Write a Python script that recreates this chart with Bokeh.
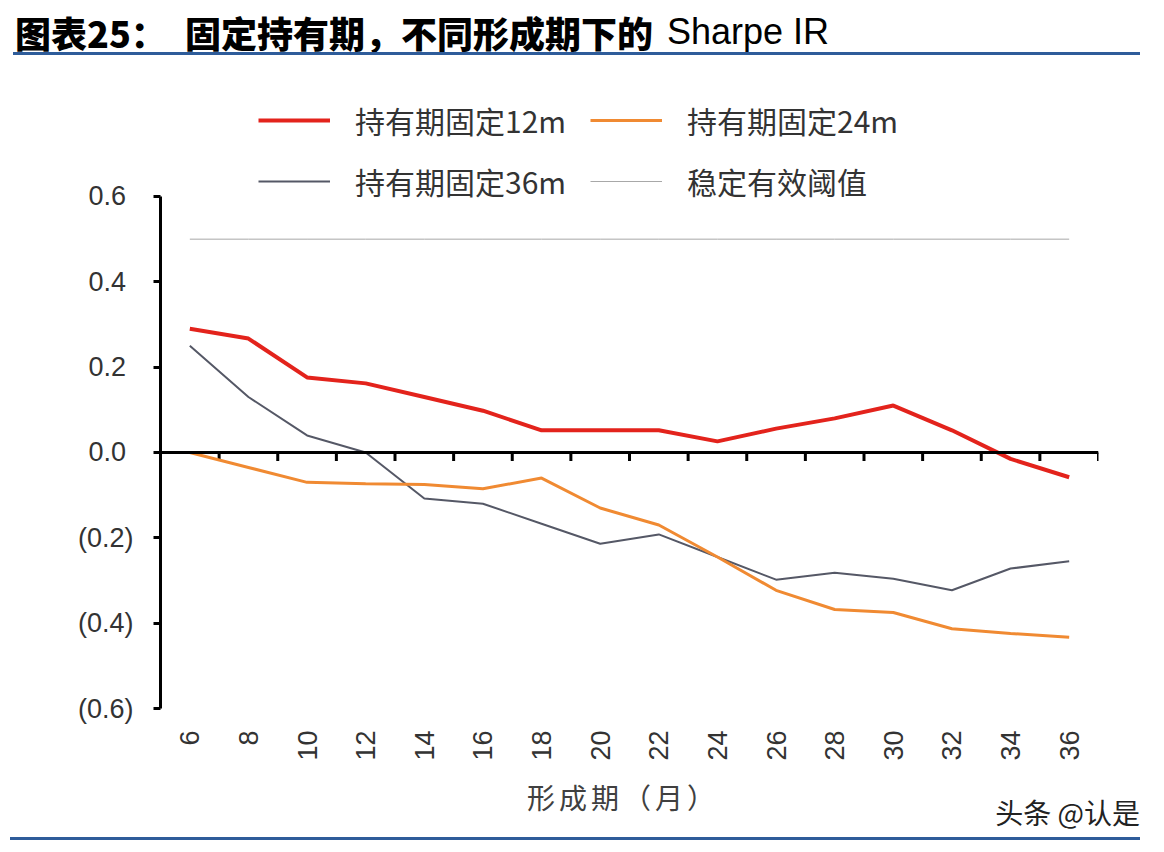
import math
from bokeh.plotting import figure
from bokeh.layouts import column
from bokeh.models import Range1d, FixedTicker, Span, Legend, LegendItem, Div
from bokeh.embed import file_html
from bokeh.resources import INLINE

# formation period (months) and Sharpe IR for each fixed holding period
months = [6, 8, 10, 12, 14, 16, 18, 20, 22, 24, 26, 28, 30, 32, 34, 36]
hold_12m = [0.29, 0.267, 0.176, 0.162, 0.13, 0.098, 0.052, 0.052, 0.052, 0.026,
            0.056, 0.08, 0.11, 0.052, -0.015, -0.058]
hold_24m = [0.0, -0.035, -0.07, -0.073, -0.075, -0.085, -0.06, -0.13, -0.17, -0.245,
            -0.323, -0.368, -0.375, -0.413, -0.424, -0.433]
hold_36m = [0.25, 0.13, 0.04, 0.0, -0.108, -0.12, -0.167, -0.214, -0.192, -0.245,
            -0.298, -0.282, -0.296, -0.323, -0.272, -0.255]
threshold = [0.5] * 16

y_ticks = [-0.6, -0.4, -0.2, 0.0, 0.2, 0.4, 0.6]
# positive labels keep a blank where the closing parenthesis sits (accounting style)
y_tick_labels = ["(0.6)", "(0.4)", "(0.2)", "0.0\u00a0", "0.2\u00a0", "0.4\u00a0", "0.6\u00a0"]

series_names = ["持有期固定12m", "持有期固定24m", "持有期固定36m", "稳定有效阈值"]
title_head = "图表25："
title_body = "固定持有期，不同形成期下的"
title_tail = "Sharpe IR"
x_title = "形成期（月）"
watermark = "头条 @认是"

CJK = "Noto Sans CJK SC"
LAT = "Liberation Sans"
BLUE = "#2e5c9a"

# header: title text and the blue rule under it
header = Div(width=1156, height=58, margin=0, text=f"""
<div style="position:relative;width:1156px;height:58px;background:white;">
  <span style="position:absolute;left:15px;top:13px;line-height:38px;font-family:'{CJK}';
        font-size:36px;font-weight:900;color:#000;white-space:nowrap;">{title_head}</span>
  <span style="position:absolute;left:185px;top:13px;line-height:38px;font-family:'{CJK}';
        font-size:36px;font-weight:900;color:#000;white-space:nowrap;">{title_body}</span>
  <span style="position:absolute;left:667px;top:13px;line-height:38px;font-family:'{LAT}';
        font-size:36px;color:#000;white-space:nowrap;">{title_tail}</span>
  <div style="position:absolute;left:13px;top:52px;width:1127px;height:3px;background:{BLUE};"></div>
</div>""")

p = figure(width=1156, height=707, output_backend="svg", toolbar_location=None,
           x_range=Range1d(5, 37), y_range=Range1d(-0.6, 0.8953),
           min_border_left=160, min_border_right=58,
           min_border_top=12, min_border_bottom=57, margin=0)
p.outline_line_color = None
p.grid.visible = False
p.background_fill_color = "white"
p.border_fill_color = "white"

# x axis: labels only, the zero line carries the ticks
xa = p.xaxis[0]
xa.ticker = FixedTicker(ticks=months)
xa.axis_line_color = None
xa.major_tick_line_color = None
xa.minor_tick_line_color = None
xa.major_tick_out = 0
xa.major_tick_in = 0
xa.major_label_orientation = math.pi / 2
xa.major_label_text_font = LAT
xa.major_label_text_font_size = "27px"
xa.major_label_text_color = "#333333"
xa.major_label_standoff = 22

ya = p.yaxis[0]
ya.ticker = FixedTicker(ticks=y_ticks)
ya.major_label_overrides = dict(zip(y_ticks, y_tick_labels))
ya.bounds = (-0.6, 0.6)
ya.axis_line_color = "black"
ya.axis_line_width = 3
ya.major_tick_line_color = "black"
ya.major_tick_line_width = 3
ya.major_tick_out = 7
ya.major_tick_in = 0
ya.minor_tick_line_color = None
ya.major_label_text_font = LAT
ya.major_label_text_font_size = "27px"
ya.major_label_text_color = "#333333"
ya.major_label_standoff = 20

p.add_layout(Span(location=0, dimension="width", line_color="black", line_width=3))
tick_x = [m + 1 for m in months]
p.segment(x0=tick_x, y0=0, x1=tick_x, y1=-0.02, line_color="black", line_width=3)

r_th = p.line(months, threshold, line_color="#a8a8a8", line_width=1)
r36 = p.line(months, hold_36m, line_color="#555866", line_width=2)
r24 = p.line(months, hold_24m, line_color="#f08a32", line_width=3)
r12 = p.line(months, hold_12m, line_color="#e3231c", line_width=4)

legend = Legend(items=[LegendItem(label=series_names[0], renderers=[r12]),
                       LegendItem(label=series_names[1], renderers=[r24]),
                       LegendItem(label=series_names[2], renderers=[r36]),
                       LegendItem(label=series_names[3], renderers=[r_th])],
                orientation="horizontal", ncols=2, location=(98, 499))
legend.border_line_color = None
legend.background_fill_alpha = 0
legend.padding = 0
legend.margin = 0
legend.spacing = 5
legend.glyph_width = 72
legend.glyph_height = 56
legend.label_height = 56
legend.label_width = 230
legend.label_standoff = 25
legend.label_text_font = CJK
legend.label_text_font_size = "30px"
legend.label_text_color = "#333333"
p.add_layout(legend)

# footer: x axis title, watermark and the closing blue rule
footer = Div(width=1156, height=84, margin=0, text=f"""
<div style="position:relative;width:1156px;height:84px;background:white;">
  <span style="position:absolute;left:526px;width:194px;top:17px;line-height:30px;text-align:center;
        font-family:'{CJK}';font-size:28px;letter-spacing:4px;color:#404040;white-space:nowrap;">{x_title}</span>
  <span style="position:absolute;right:16px;top:32px;line-height:30px;
        font-family:'{CJK}';font-size:28px;color:#222;white-space:nowrap;">{watermark}</span>
  <div style="position:absolute;left:10px;top:72px;width:1130px;height:3px;background:{BLUE};"></div>
</div>""")

layout = column(header, p, footer, spacing=0, margin=0)
open("out.html", "w").write(file_html(layout, INLINE))
